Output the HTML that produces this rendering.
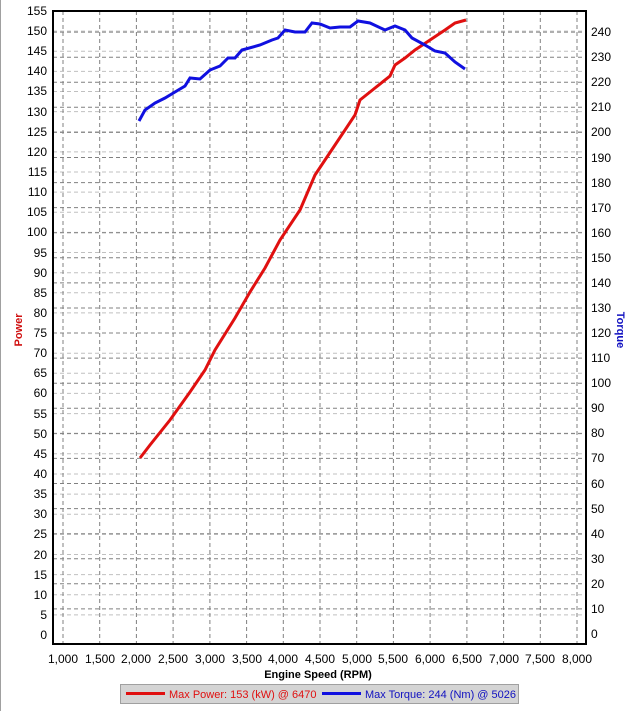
<!DOCTYPE html><html><head><style>body{margin:0;background:#fff}svg{display:block;font-family:"Liberation Sans",sans-serif;font-size:12px}</style></head><body>
<svg width="639" height="711" xmlns="http://www.w3.org/2000/svg">
<rect x="0" y="0" width="639" height="711" fill="#fff"/>
<line x1="0.5" y1="0" x2="0.5" y2="711" stroke="#a0a0a0"/>
<g stroke="#c0c0c0" stroke-dasharray="4,3" stroke-width="1">
<path d="M53 614.9H586M53 594.7H586M53 574.6H586M53 554.5H586M53 534.4H586M53 514.2H586M53 494.1H586M53 474H586M53 453.8H586M53 433.7H586M53 413.6H586M53 393.4H586M53 373.3H586M53 353.2H586M53 333H586M53 312.9H586M53 292.8H586M53 272.7H586M53 252.5H586M53 232.4H586M53 212.3H586M53 192.1H586M53 172H586M53 151.9H586M53 131.7H586M53 111.6H586M53 91.5H586M53 71.4H586M53 51.2H586M53 31.1H586"/>
</g>
<g stroke="#808080" stroke-dasharray="4,3" stroke-width="1">
<path d="M53 608.9H586M53 583.8H586M53 558.8H586M53 533.7H586M53 508.6H586M53 483.5H586M53 458.4H586M53 433.4H586M53 408.3H586M53 383.2H586M53 358.1H586M53 333H586M53 308H586M53 282.9H586M53 257.8H586M53 232.7H586M53 207.6H586M53 182.6H586M53 157.5H586M53 132.4H586M53 107.3H586M53 82.2H586M53 57.2H586M53 32.1H586"/>
<path d="M63 11V644M99.7 11V644M136.4 11V644M173.1 11V644M209.9 11V644M246.6 11V644M283.3 11V644M320 11V644M356.7 11V644M393.4 11V644M430.1 11V644M466.9 11V644M503.6 11V644M540.3 11V644M577 11V644"/>
</g>
<rect x="53" y="11" width="533" height="633" fill="none" stroke="#000" stroke-width="2"/>
<polyline fill="none" stroke="#e01010" stroke-width="3" points="140,458 150,445 170,420 190,392 205,370 215,350 235,318 250,292 265,268 280,240 300,210 315,175 335,145 355,115 360,100 375,88 390,76 395,65 405,58 415,50 430,40 445,30 455,23 466,20"/>
<polyline fill="none" stroke="#1010e0" stroke-width="3" points="139,121 145,110 155,103 165,98 175,92 185,86 190,78 200,79 210,70 220,66 228,58 235,58 242,50 260,45 272,40 278,38 285,30 295,32 305,32 312,23 320,24 330,28 340,27 350,27 358,21 370,23 385,30 395,26 405,30 412,38 425,45 435,51 445,53 455,62 465,69"/>
<g text-anchor="end" fill="#000">
<text x="47" y="639">0</text><text x="47" y="619">5</text><text x="47" y="599">10</text><text x="47" y="579">15</text><text x="47" y="559">20</text><text x="47" y="538">25</text><text x="47" y="518">30</text><text x="47" y="498">35</text><text x="47" y="478">40</text><text x="47" y="458">45</text><text x="47" y="438">50</text><text x="47" y="418">55</text><text x="47" y="397">60</text><text x="47" y="377">65</text><text x="47" y="357">70</text><text x="47" y="337">75</text><text x="47" y="317">80</text><text x="47" y="297">85</text><text x="47" y="277">90</text><text x="47" y="257">95</text><text x="47" y="236">100</text><text x="47" y="216">105</text><text x="47" y="196">110</text><text x="47" y="176">115</text><text x="47" y="156">120</text><text x="47" y="136">125</text><text x="47" y="116">130</text><text x="47" y="95">135</text><text x="47" y="75">140</text><text x="47" y="55">145</text><text x="47" y="35">150</text><text x="47" y="15">155</text>
</g>
<g fill="#000">
<text x="591" y="638">0</text><text x="591" y="613">10</text><text x="591" y="588">20</text><text x="591" y="563">30</text><text x="591" y="538">40</text><text x="591" y="513">50</text><text x="591" y="488">60</text><text x="591" y="462">70</text><text x="591" y="437">80</text><text x="591" y="412">90</text><text x="591" y="387">100</text><text x="591" y="362">110</text><text x="591" y="337">120</text><text x="591" y="312">130</text><text x="591" y="287">140</text><text x="591" y="262">150</text><text x="591" y="237">160</text><text x="591" y="212">170</text><text x="591" y="187">180</text><text x="591" y="162">190</text><text x="591" y="136">200</text><text x="591" y="111">210</text><text x="591" y="86">220</text><text x="591" y="61">230</text><text x="591" y="36">240</text>
</g>
<g text-anchor="middle" fill="#000">
<text x="63" y="663">1,000</text><text x="100" y="663">1,500</text><text x="136" y="663">2,000</text><text x="173" y="663">2,500</text><text x="210" y="663">3,000</text><text x="247" y="663">3,500</text><text x="283" y="663">4,000</text><text x="320" y="663">4,500</text><text x="357" y="663">5,000</text><text x="393" y="663">5,500</text><text x="430" y="663">6,000</text><text x="467" y="663">6,500</text><text x="504" y="663">7,000</text><text x="540" y="663">7,500</text><text x="577" y="663">8,000</text>
<text x="318" y="678" font-weight="bold" font-size="11">Engine Speed (RPM)</text>
</g>
<text transform="translate(22,330) rotate(-90)" text-anchor="middle" fill="#d01010" font-weight="bold" font-size="11">Power</text>
<text transform="translate(617,330) rotate(90)" text-anchor="middle" fill="#1010c0" font-weight="bold" font-size="11">Torque</text>
<rect x="120.5" y="684.5" width="398" height="19" fill="#d4d4d4" stroke="#a0a0a0"/>
<line x1="126" y1="693.5" x2="165" y2="693.5" stroke="#e01010" stroke-width="3"/>
<text x="169" y="698" fill="#e01010" font-size="11">Max Power: 153 (kW) @ 6470</text>
<line x1="322" y1="693.5" x2="361" y2="693.5" stroke="#1010e0" stroke-width="3"/>
<text x="365" y="698" fill="#1010c0" font-size="11">Max Torque: 244 (Nm) @ 5026</text>
</svg></body></html>
